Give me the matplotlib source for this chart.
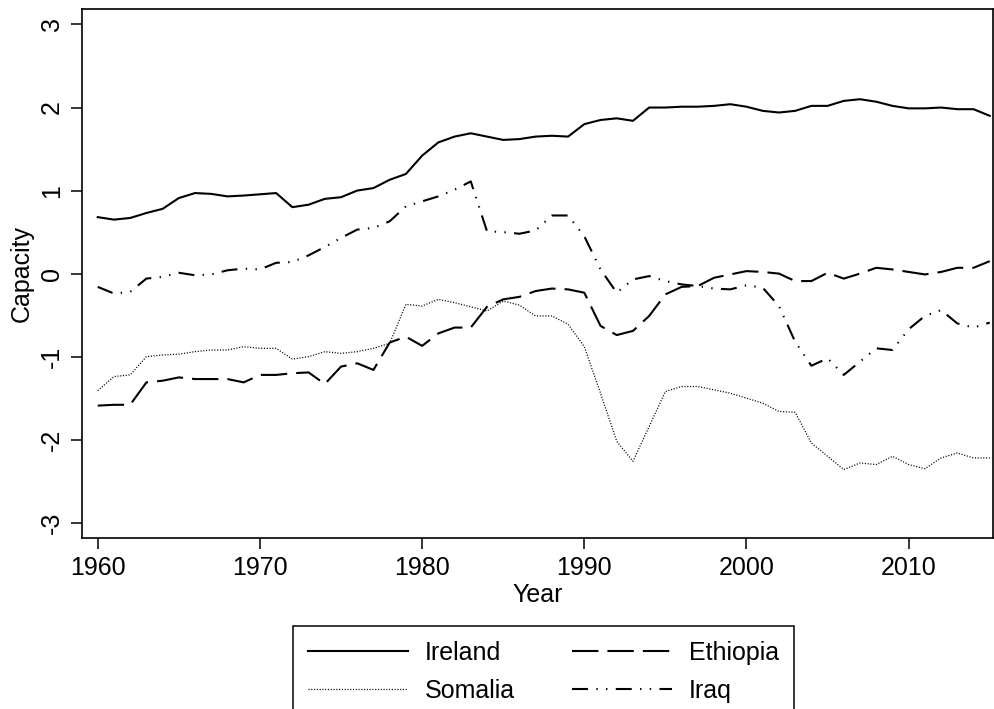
import numpy as np
import matplotlib
matplotlib.use("Agg")
from matplotlib import pyplot as plt

years = list(range(1960, 2016))

ireland = [0.68, 0.65, 0.67, 0.73, 0.78, 0.91, 0.97, 0.96, 0.93, 0.94,
           0.955, 0.97, 0.80, 0.83, 0.90, 0.92, 1.00, 1.03, 1.13, 1.20,
           1.42, 1.58, 1.65, 1.69, 1.65, 1.61, 1.62, 1.65, 1.66, 1.65,
           1.80, 1.85, 1.87, 1.84, 2.00, 2.00, 2.01, 2.01, 2.02, 2.04,
           2.01, 1.96, 1.94, 1.96, 2.02, 2.02, 2.08, 2.10, 2.07, 2.02,
           1.99, 1.99, 2.00, 1.98, 1.98, 1.90]

somalia = [-1.41, -1.24, -1.22, -1.00, -0.98, -0.97, -0.94, -0.92, -0.92, -0.88,
           -0.90, -0.90, -1.03, -1.00, -0.94, -0.96, -0.94, -0.90, -0.84, -0.37,
           -0.39, -0.31, -0.35, -0.40, -0.45, -0.33, -0.38, -0.51, -0.51, -0.61,
           -0.88, -1.44, -2.02, -2.26, -1.84, -1.42, -1.36, -1.36, -1.40, -1.44,
           -1.50, -1.56, -1.66, -1.67, -2.04, -2.20, -2.36, -2.28, -2.30, -2.20,
           -2.30, -2.35, -2.22, -2.16, -2.22, -2.22]

ethiopia = [-1.59, -1.58, -1.58, -1.31, -1.29, -1.25, -1.27, -1.27, -1.27, -1.31,
            -1.22, -1.22, -1.20, -1.19, -1.33, -1.12, -1.08, -1.16, -0.83, -0.76,
            -0.87, -0.72, -0.65, -0.65, -0.40, -0.31, -0.28, -0.21, -0.18, -0.19,
            -0.23, -0.63, -0.74, -0.69, -0.51, -0.25, -0.16, -0.15, -0.05, -0.01,
            0.03, 0.02, 0.00, -0.09, -0.09, 0.01, -0.06, 0.00, 0.07, 0.05,
            0.02, -0.01, 0.02, 0.07, 0.07, 0.15]

iraq = [-0.16, -0.24, -0.22, -0.06, -0.04, 0.01, -0.02, -0.01, 0.04, 0.06,
        0.05, 0.13, 0.14, 0.22, 0.32, 0.43, 0.53, 0.55, 0.63, 0.81,
        0.87, 0.93, 1.01, 1.11, 0.51, 0.50, 0.48, 0.52, 0.70, 0.70,
        0.45, 0.05, -0.23, -0.07, -0.03, -0.09, -0.13, -0.15, -0.18, -0.19,
        -0.14, -0.17, -0.39, -0.82, -1.11, -1.02, -1.22, -1.06, -0.90, -0.92,
        -0.67, -0.51, -0.44, -0.60, -0.65, -0.59]

plt.rcParams['font.family'] = ['Liberation Sans', 'DejaVu Sans']
plt.rcParams['lines.scale_dashes'] = False

fig = plt.figure(figsize=(9.95, 7.09), dpi=100)
ax = fig.add_axes([0.0821, 0.2412, 0.9159, 0.7458])

lw = 1.5
ax.plot(years, ireland, color="black", lw=lw, label="Ireland")
ax.plot(years, somalia, color="black", lw=0.9, dashes=(0.8, 1.2), label="Somalia")
ax.plot(years, ethiopia, color="black", lw=lw, dashes=(19, 6.5), label="Ethiopia")
ax.plot(years, iraq, color="black", lw=lw, dashes=(11.5, 6, 1, 6, 1, 6), label="Iraq")

ax.set_xlim(1959.01, 2015.2)
ax.set_ylim(-3.184, 3.184)
ax.set_xticks([1960, 1970, 1980, 1990, 2000, 2010])
ax.set_yticks([-3, -2, -1, 0, 1, 2, 3])
ax.set_yticklabels(["-3", "-2", "-1", "0", "1", "2", "3"], rotation=90, va="center")
ax.tick_params(axis="both", labelsize=18, length=8, width=1.1, pad=5, color="black")
for s in ax.spines.values():
    s.set_linewidth(1.2)

ax.set_xlabel("Year", fontsize=18, labelpad=2)
ax.set_ylabel("Capacity", fontsize=18, labelpad=4)

leg = fig.legend(loc="upper center", bbox_to_anchor=(543.5 / 995, 1 - 626 / 709), ncol=2,
                 fontsize=18, handlelength=4.0, handletextpad=0.68, columnspacing=2.3,
                 labelspacing=0.55, borderpad=0.6, fancybox=False, framealpha=1,
                 edgecolor="black", borderaxespad=0)
leg.get_frame().set_linewidth(1.1)

fig.savefig("out.png", dpi=100)
